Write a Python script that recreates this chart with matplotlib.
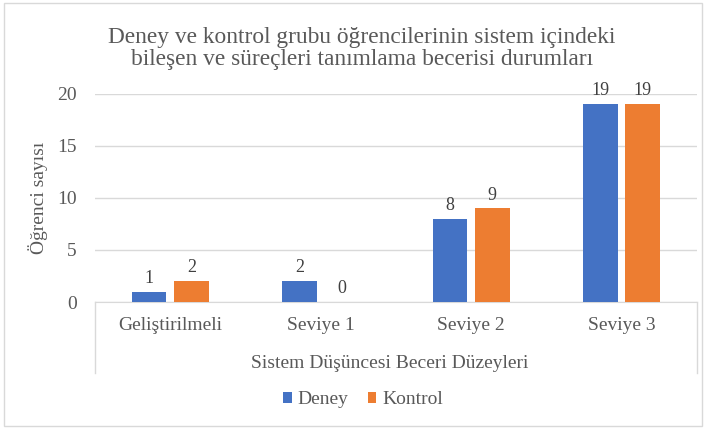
import numpy as np
import matplotlib.pyplot as plt
import matplotlib.transforms as mtransforms

plt.rcParams['font.family'] = ['Liberation Serif', 'DejaVu Serif']

kategoriler = ['Geliştirilmeli', 'Seviye 1', 'Seviye 2', 'Seviye 3']
deney = [1, 2, 8, 19]
kontrol = [2, 0, 9, 19]
yticks = [0, 5, 10, 15, 20]

mavi = '#4472C4'
turuncu = '#ED7D31'
yazi = '#595959'

fig = plt.figure(figsize=(7.06, 4.29), dpi=100)
ax = fig.add_axes([0.1346, 0.296, 0.987 - 0.1346, 0.781 - 0.296])

x = np.arange(len(kategoriler))
w = 0.23
b1 = ax.bar(x - 0.14, deney, w, color=mavi, label='Deney', zorder=3)
b2 = ax.bar(x + 0.14, kontrol, w, color=turuncu, label='Kontrol', zorder=3)

for bars, vals in ((b1, deney), (b2, kontrol)):
    for r, v in zip(bars, vals):
        ax.annotate(str(v), (r.get_x() + r.get_width() / 2, v),
                    xytext=(0, 3.5), textcoords='offset points',
                    ha='center', va='bottom', fontsize=13, color='#404040')

ax.set_xlim(-0.5, len(kategoriler) - 0.5)
ax.set_ylim(0, 20)
ax.set_yticks(yticks)
ax.set_xticks(x)
ax.set_xticklabels(kategoriler)
ax.tick_params(axis='both', length=0, labelsize=14, colors=yazi)
ax.tick_params(axis='y', pad=13)
ax.tick_params(axis='x', pad=11)
ax.grid(axis='y', color='#D9D9D9', linewidth=1, zorder=0)
for s in ['top', 'right', 'left']:
    ax.spines[s].set_visible(False)
ax.spines['bottom'].set_color('#D9D9D9')

# sol ve sag ayiricilar (Excel çok düzeyli kategori ekseni)
tr = mtransforms.blended_transform_factory(ax.transAxes, ax.transAxes)
for xs in (0, 1):
    ax.plot([xs, xs], [0, -0.34], transform=tr, color='#D9D9D9',
            linewidth=1, clip_on=False)

ax.text(0.49, -0.295, 'Sistem Düşüncesi Beceri Düzeyleri', transform=ax.transAxes,
        ha='center', va='center', fontsize=14, color=yazi)
ax.set_ylabel('Öğrenci sayısı', fontsize=14, color=yazi, labelpad=7)

fig.suptitle('Deney ve kontrol grubu öğrencilerinin sistem içindeki\n'
             'bileşen ve süreçleri tanımlama becerisi durumları',
             x=0.513, y=0.937, fontsize=16.8, color=yazi, linespacing=1.03)

fig.legend(handles=[b1, b2], loc='center', bbox_to_anchor=(0.514, 0.068), ncol=2,
           frameon=False, fontsize=14, handlelength=0.45, handleheight=0.45,
           handletextpad=0.3, columnspacing=1.0, labelcolor=yazi)

fig.patches.append(plt.Rectangle((0.005, 0.008), 0.99, 0.985, transform=fig.transFigure,
                                 fill=False, edgecolor='#D9D9D9', linewidth=1))

fig.savefig('out.png', dpi=100)
